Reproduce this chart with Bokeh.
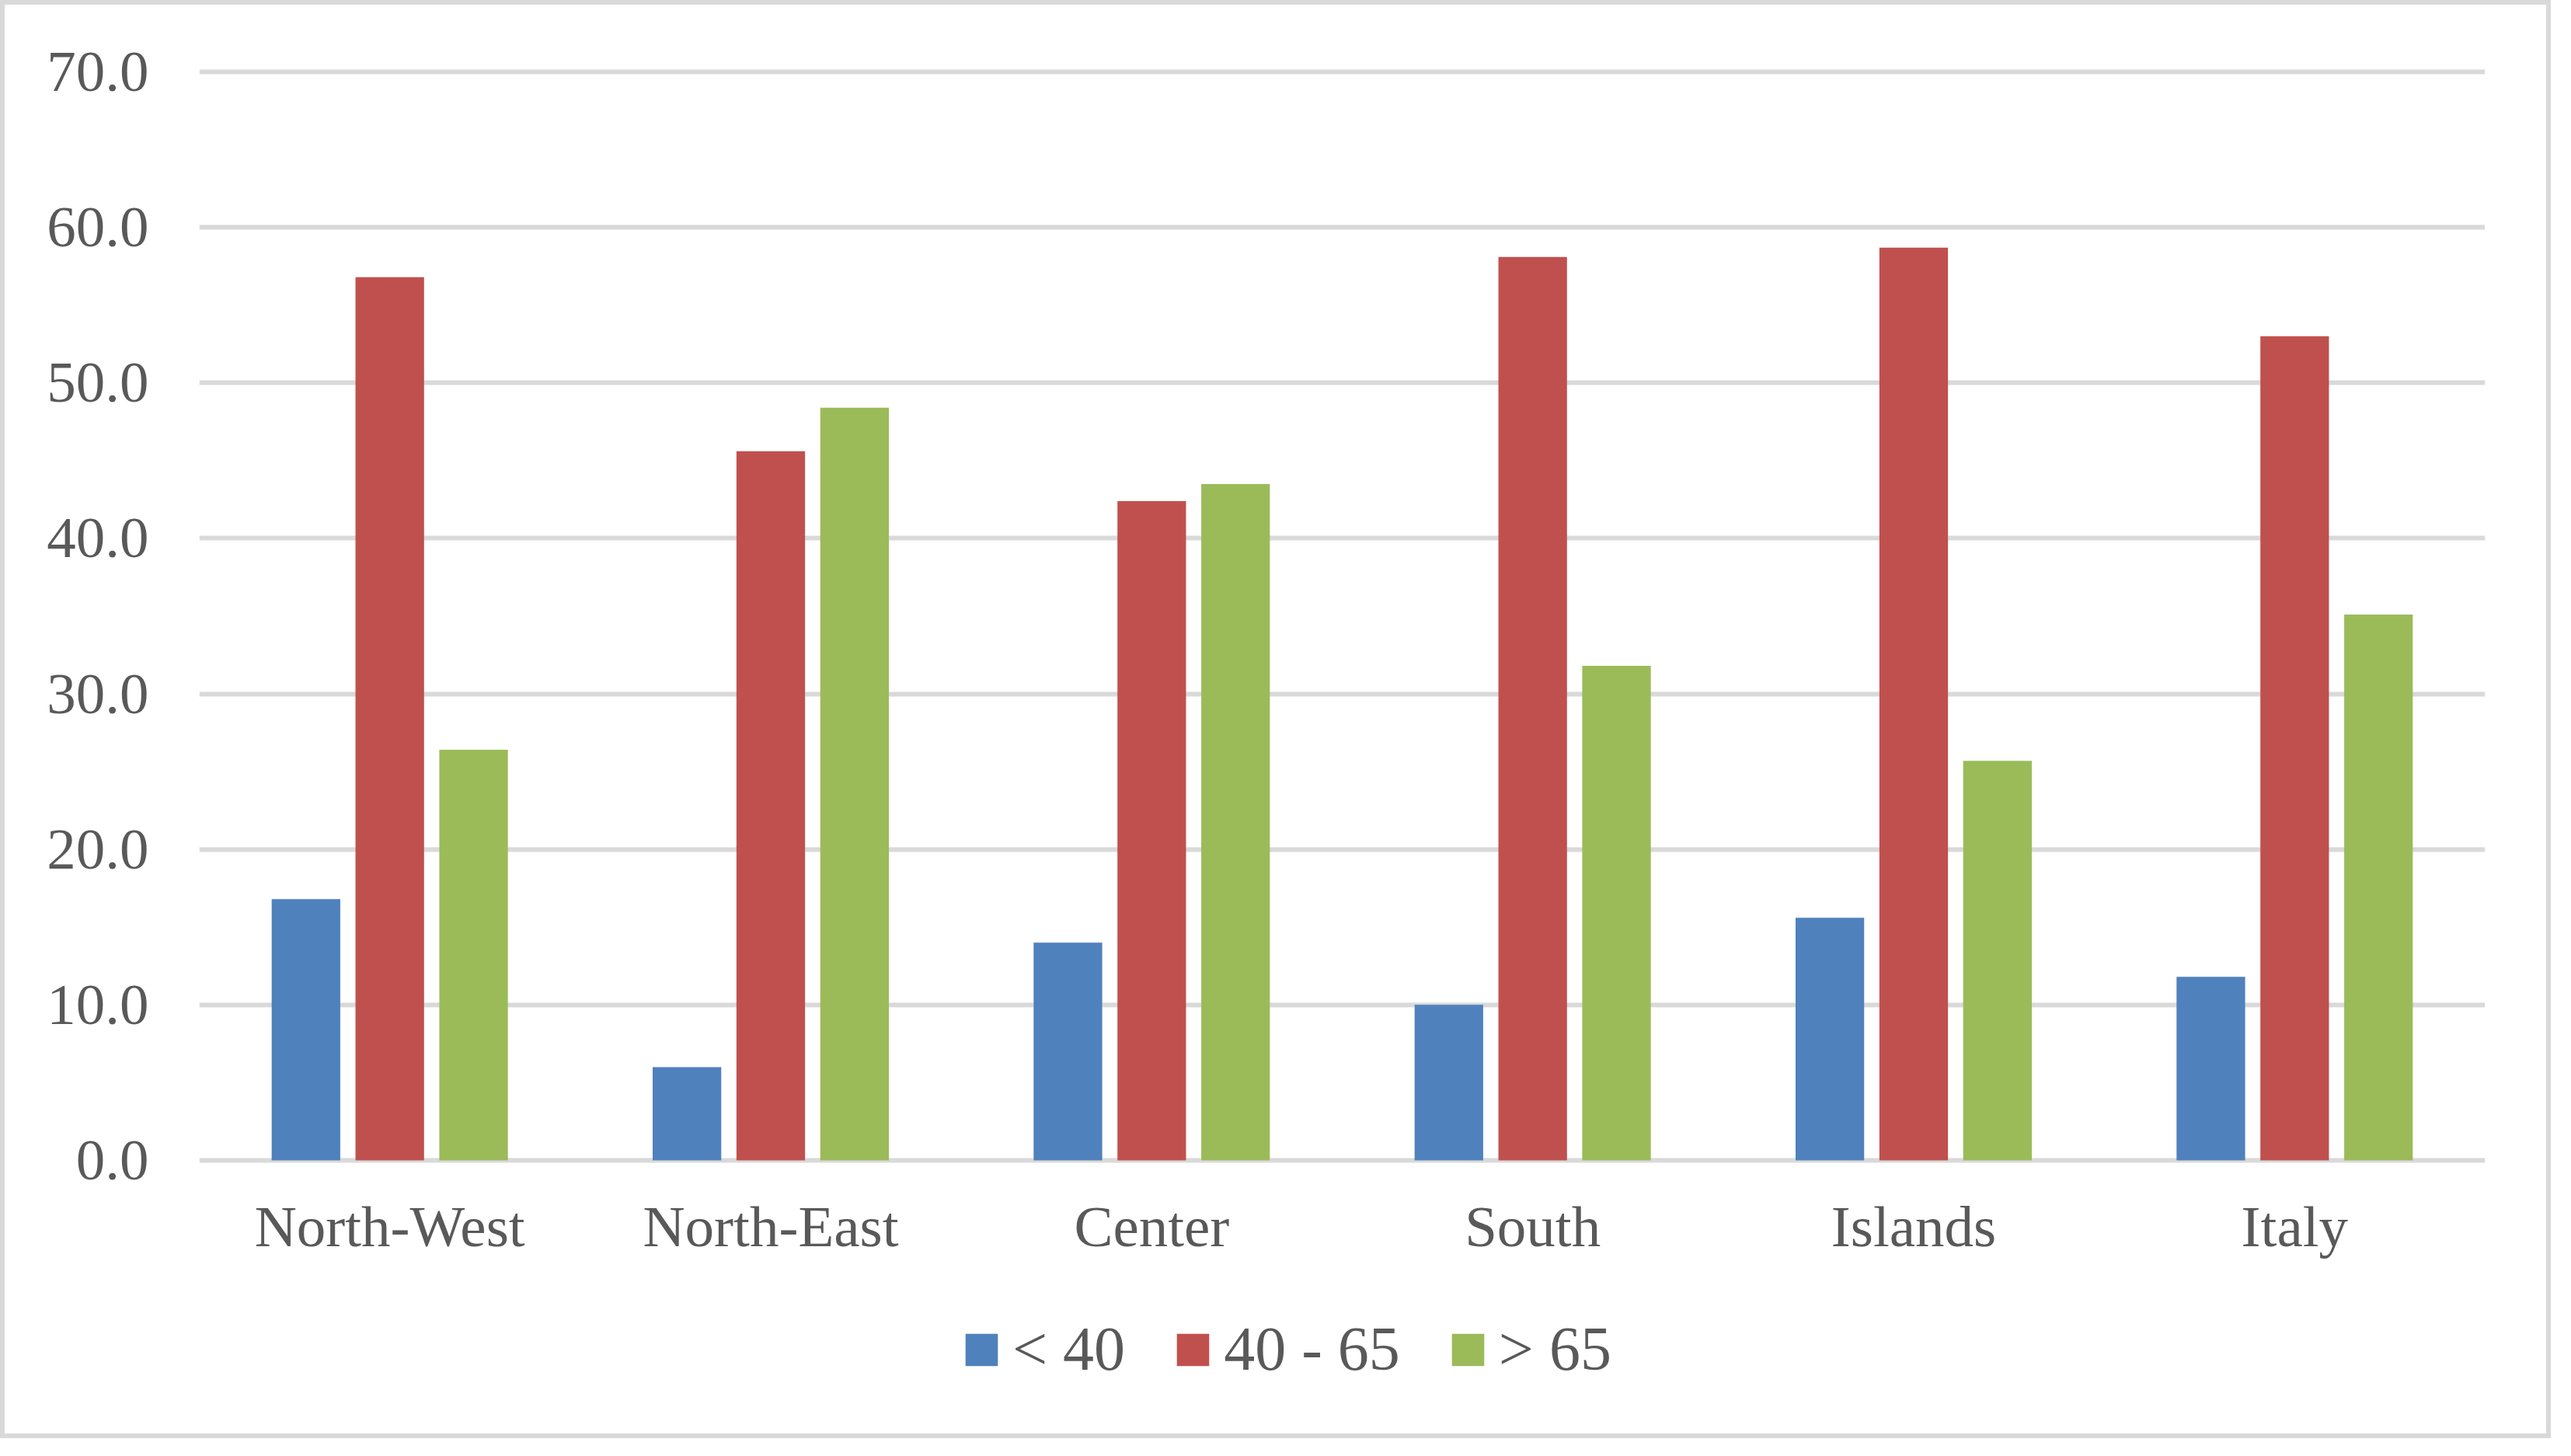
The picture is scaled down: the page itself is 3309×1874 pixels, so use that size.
from bokeh.plotting import figure
from bokeh.layouts import column
from bokeh.models import (ColumnDataSource, FactorRange, Range1d, Legend, LegendItem,
                          NumeralTickFormatter, FixedTicker)
from bokeh.transform import dodge
from bokeh.embed import file_html
from bokeh.resources import INLINE

categories = ["North-West", "North-East", "Center", "South", "Islands", "Italy"]
under_40 = [16.8, 6.0, 14.0, 10.0, 15.6, 11.8]
from_40_to_65 = [56.8, 45.6, 42.4, 58.1, 58.7, 53.0]
over_65 = [26.4, 48.4, 43.5, 31.8, 25.7, 35.1]
series_labels = ["< 40", "40 - 65", "> 65"]
y_ticks = [0, 10, 20, 30, 40, 50, 60, 70]

colors = ["#4F81BD", "#C0504D", "#9BBB59"]
FONT = "Liberation Serif"
TXT = "#595959"
GRID = "#D9D9D9"

src = ColumnDataSource(dict(cat=categories, a=under_40, b=from_40_to_65, c=over_65))

W = 3271
HM = 1659
HL = 180
BL, BR = 250, 79
p = figure(x_range=FactorRange(factors=categories), y_range=Range1d(-0.2, 70.2),
           width=W, height=HM, output_backend="svg", toolbar_location=None,
           min_border_left=BL, min_border_right=BR, min_border_top=82,
           min_border_bottom=HM - 1491)
p.outline_line_color = None
p.background_fill_color = "white"
p.border_fill_color = "white"

bw = 0.18
off = 0.22
for key, o, col in zip(["a", "b", "c"], [-off, 0, off], colors):
    p.vbar(x=dodge("cat", o, range=p.x_range), top=key, width=bw, source=src,
           fill_color=col, line_color=None)

p.yaxis.ticker = FixedTicker(ticks=y_ticks)
p.yaxis.formatter = NumeralTickFormatter(format="0.0")
p.ygrid.ticker = FixedTicker(ticks=y_ticks)
p.ygrid.grid_line_color = GRID
p.ygrid.grid_line_width = 6
p.xgrid.grid_line_color = None

for ax in (p.xaxis, p.yaxis):
    ax.axis_line_color = None
    ax.major_tick_line_color = None
    ax.minor_tick_line_color = None
    ax.major_label_text_font = FONT
    ax.major_label_text_color = TXT
    ax.major_label_text_font_size = "75px"
p.yaxis.major_label_standoff = 59
p.xaxis.major_label_standoff = 33

# legend strip below the chart
pl = figure(x_range=Range1d(0, 1), y_range=Range1d(0, 1), width=W, height=HL,
            output_backend="svg", toolbar_location=None, x_axis_type=None, y_axis_type=None,
            min_border_left=BL, min_border_right=BR, min_border_top=0, min_border_bottom=0)
pl.outline_line_color = None
pl.background_fill_color = "white"
pl.border_fill_color = "white"
pl.xgrid.visible = False
pl.ygrid.visible = False
hidden = ColumnDataSource(dict(x=[0.5], top=[-2.0], bottom=[-3.0]))
lrs = [pl.vbar(x="x", top="top", bottom="bottom", width=0.1, source=hidden,
               fill_color=c, line_color=None)
       for c in colors]
legend = Legend(items=[LegendItem(label=l, renderers=[r]) for l, r in zip(series_labels, lrs)],
                orientation="horizontal", location=(981, 63))
legend.glyph_width = 52
legend.glyph_height = 52
legend.label_standoff = 14
legend.spacing = 61
legend.padding = 0
legend.margin = 0
legend.border_line_color = None
legend.background_fill_alpha = 0
legend.label_text_font = FONT
legend.label_text_color = TXT
legend.label_text_font_size = "80px"
pl.add_layout(legend)

layout = column(p, pl, spacing=0, styles={"border": "6px solid #D9D9D9"})

open("out.html", "w").write(file_html(layout, INLINE))
